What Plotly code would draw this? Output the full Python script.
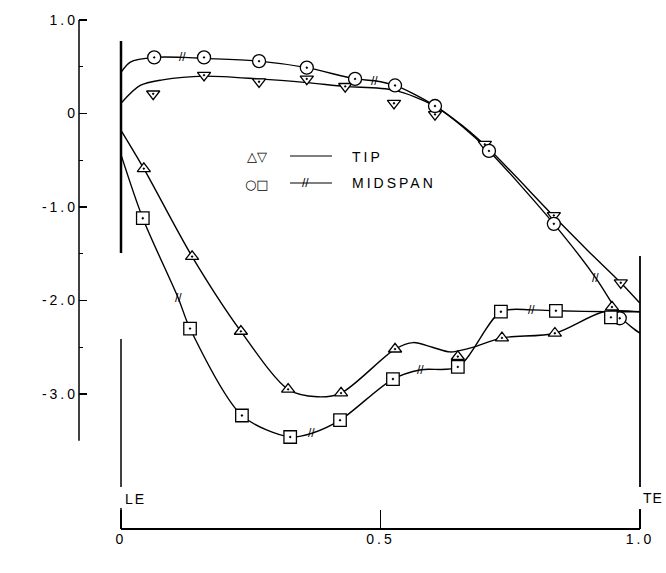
import numpy as np
import plotly.graph_objects as go

# ---------------- data ----------------
# measured points: tip suction side (triangle up)
tip_ss_x = [0.044, 0.137, 0.231, 0.322, 0.424, 0.528, 0.649, 0.734, 0.836, 0.946]
tip_ss_cp = [-0.59, -1.53, -2.33, -2.95, -2.99, -2.52, -2.60, -2.40, -2.35, -2.07]
# tip pressure side (triangle down)
tip_ps_x = [0.062, 0.160, 0.266, 0.358, 0.432, 0.526, 0.605, 0.701, 0.834, 0.963]
tip_ps_cp = [0.21, 0.41, 0.34, 0.37, 0.29, 0.11, -0.01, -0.33, -1.09, -1.81]
# midspan pressure side (circle)
mid_ps_x = [0.064, 0.160, 0.266, 0.358, 0.451, 0.528, 0.605, 0.709, 0.834, 0.961]
mid_ps_cp = [0.60, 0.60, 0.56, 0.49, 0.37, 0.30, 0.08, -0.40, -1.18, -2.19]
# midspan suction side (square)
mid_ss_x = [0.042, 0.133, 0.233, 0.326, 0.422, 0.524, 0.649, 0.732, 0.838, 0.944]
mid_ss_cp = [-1.12, -2.30, -3.23, -3.46, -3.28, -2.84, -2.71, -2.12, -2.11, -2.18]

# faired curves
tip_ss_curve_x = [0.0, 0.044, 0.137, 0.231, 0.322, 0.378, 0.424, 0.528, 0.563, 0.600, 0.634, 0.672, 0.734, 0.836, 0.930, 1.0]
tip_ss_curve_cp = [-0.18, -0.59, -1.53, -2.33, -2.95, -3.03, -2.99, -2.52, -2.45, -2.50, -2.55, -2.51, -2.40, -2.35, -2.12, -2.12]
tip_ps_curve_x = [0.0, 0.037, 0.080, 0.160, 0.266, 0.358, 0.432, 0.526, 0.605, 0.660, 0.709, 0.834, 0.900, 0.963, 1.0]
tip_ps_curve_cp = [0.11, 0.30, 0.36, 0.40, 0.37, 0.33, 0.29, 0.25, 0.08, -0.14, -0.38, -1.10, -1.47, -1.81, -2.03]
mid_ps_curve_x = [0.0, 0.018, 0.064, 0.119, 0.160, 0.266, 0.358, 0.451, 0.489, 0.528, 0.560, 0.605, 0.660, 0.709, 0.834, 0.915, 0.947, 0.961, 0.985, 1.0]
mid_ps_curve_cp = [0.44, 0.55, 0.60, 0.60, 0.59, 0.56, 0.49, 0.37, 0.35, 0.30, 0.22, 0.08, -0.15, -0.40, -1.18, -1.76, -2.04, -2.17, -2.29, -2.35]
mid_ss_curve_x = [0.0, 0.042, 0.110, 0.133, 0.233, 0.326, 0.368, 0.422, 0.524, 0.578, 0.649, 0.732, 0.790, 0.838, 0.944, 1.0]
mid_ss_curve_cp = [-0.44, -1.12, -1.97, -2.30, -3.23, -3.46, -3.42, -3.28, -2.84, -2.74, -2.71, -2.12, -2.10, -2.11, -2.12, -2.12]

# positions of the "//" midspan marks along the midspan curves
mid_ps_slash_x = [0.119, 0.489, 0.915]
mid_ss_slash_x = [0.110, 0.368, 0.578, 0.790]

y_tick_vals = [1.0, 0.0, -1.0, -2.0, -3.0]
y_tick_text = ["1.0", "0", "-1.0", "-2.0", "-3.0"]
y_minor_vals = [0.5, -0.5, -1.5, -2.5]
x_tick_vals = [0.0, 0.5, 1.0]
x_tick_text = ["0", "0.5", "1.0"]

# ---------------- geometry helpers (pixel -> axis units) ----------------
W, H = 666, 573
ML, MR, MT, MB = 79, 16, 14, 44
X0PX, XSCALE = 121.0, 519.0
Y0PX, YSCALE = 113.5, 93.5


def xd(px):
    return (px - X0PX) / XSCALE


def yd(py):
    return (Y0PX - py) / YSCALE


FONT = "Liberation Sans, Arial, Helvetica, sans-serif"


def spaced(t, sp=3):
    return f'<span style="letter-spacing:{sp}px">{t}</span>'


fig = go.Figure()

curves = [
    (tip_ss_curve_x, tip_ss_curve_cp),
    (tip_ps_curve_x, tip_ps_curve_cp),
    (mid_ps_curve_x, mid_ps_curve_cp),
    (mid_ss_curve_x, mid_ss_curve_cp),
]
for cx, cy in curves:
    fig.add_trace(go.Scatter(
        x=cx, y=cy, mode="lines",
        line=dict(color="black", width=1.4, shape="spline", smoothing=0.85),
        hoverinfo="skip", showlegend=False))

series = [
    (tip_ss_x, tip_ss_cp, "triangle-up-dot", 11.5),
    (tip_ps_x, tip_ps_cp, "triangle-down-dot", 11.5),
    (mid_ps_x, mid_ps_cp, "circle-dot", 13),
    (mid_ss_x, mid_ss_cp, "square-dot", 12.5),
]
for sx, sy, sym, sz in series:
    fig.add_trace(go.Scatter(
        x=sx, y=sy, mode="markers", cliponaxis=False,
        marker=dict(symbol=sym, size=sz, color="white",
                    line=dict(color="black", width=1.3)),
        showlegend=False))

annotations = []
# midspan "//" marks
for sxs, (cx, cy) in [(mid_ps_slash_x, curves[2]), (mid_ss_slash_x, curves[3])]:
    for s in sxs:
        annotations.append(dict(
            x=s, y=float(np.interp(s, cx, cy)), xref="x", yref="y",
            text="//", showarrow=False, font=dict(family=FONT, size=12, color="black"),
            xanchor="center", yanchor="middle"))

# legend
annotations += [
    dict(x=xd(257), y=yd(156), text="△▽", showarrow=False,
         font=dict(family="DejaVu Sans", size=13, color="black"), xanchor="center", yanchor="middle"),
    dict(x=xd(257), y=yd(184), text="○□", showarrow=False,
         font=dict(family="DejaVu Sans", size=13, color="black"), xanchor="center", yanchor="middle"),
    dict(x=xd(350), y=yd(157), text=spaced("TIP"), showarrow=False,
         font=dict(family=FONT, size=14, color="black"), xanchor="left", yanchor="middle"),
    dict(x=xd(350), y=yd(183), text=spaced("MIDSPAN"), showarrow=False,
         font=dict(family=FONT, size=14, color="black"), xanchor="left", yanchor="middle"),
    dict(x=xd(305), y=yd(183), text="//", showarrow=False,
         font=dict(family=FONT, size=12, color="black"), xanchor="center", yanchor="middle"),
    # other labels
    dict(x=xd(28), y=yd(158), text=spaced("Cp", 2), showarrow=False,
         font=dict(family=FONT, size=14, color="black"), xanchor="center", yanchor="middle"),
    dict(x=xd(123), y=yd(499), text=spaced("LE", 2), showarrow=False,
         font=dict(family=FONT, size=14, color="black"), xanchor="left", yanchor="middle"),
    dict(x=xd(641), y=yd(498), text=spaced("TE", 1), showarrow=False,
         font=dict(family=FONT, size=14, color="black"), xanchor="left", yanchor="middle"),
    dict(x=xd(382), y=yd(566), text=spaced("x/bx"), showarrow=False,
         font=dict(family=FONT, size=14, color="black"), xanchor="center", yanchor="middle"),
]

shapes = [
    # y axis line
    dict(type="line", xref="paper", yref="y", x0=0, x1=0, y0=-3.5, y1=1.0,
         line=dict(color="black", width=1.5)),
    # x axis line
    dict(type="line", xref="x", yref="paper", x0=0, x1=1.0, y0=0, y1=0,
         line=dict(color="black", width=2)),
    # leading edge marker lines
    dict(type="line", xref="x", yref="y", x0=0, x1=0, y0=yd(41), y1=yd(253),
         line=dict(color="black", width=2.5)),
    dict(type="line", xref="x", yref="y", x0=0, x1=0, y0=yd(339), y1=yd(487),
         line=dict(color="black", width=1.5)),
    dict(type="line", xref="x", yref="y", x0=0, x1=0, y0=yd(508), y1=yd(529),
         line=dict(color="black", width=1.5)),
    # trailing edge marker lines
    dict(type="line", xref="x", yref="y", x0=1.0, x1=1.0, y0=yd(256), y1=yd(487),
         line=dict(color="black", width=1.8)),
    dict(type="line", xref="x", yref="y", x0=1.0, x1=1.0, y0=yd(509), y1=yd(529),
         line=dict(color="black", width=1.8)),
    # legend lines
    dict(type="line", xref="x", yref="y", x0=xd(290), x1=xd(332), y0=yd(156), y1=yd(156),
         line=dict(color="black", width=1.2)),
    dict(type="line", xref="x", yref="y", x0=xd(290), x1=xd(332), y0=yd(183), y1=yd(183),
         line=dict(color="black", width=1.2)),
]

fig.update_layout(
    template="none",
    width=W, height=H,
    margin=dict(l=ML, r=MR, t=MT, b=MB, pad=0, autoexpand=False),
    paper_bgcolor="white", plot_bgcolor="white",
    showlegend=False,
    annotations=annotations,
    shapes=shapes,
    font=dict(family=FONT, size=14, color="black"),
)
fig.update_xaxes(
    automargin=False,
    range=[xd(ML), xd(W - MR)], showgrid=False, zeroline=False, showline=False,
    tickmode="array", tickvals=x_tick_vals, ticktext=[spaced(t) for t in x_tick_text],
    ticks="inside", ticklen=19, tickwidth=1.5, tickcolor="black",
    tickfont=dict(family=FONT, size=14, color="black"),
)
fig.update_yaxes(
    automargin=False,
    range=[yd(H - MB), yd(MT)], showgrid=False, zeroline=False, showline=False,
    tickmode="array", tickvals=y_tick_vals, ticktext=[spaced(t) for t in y_tick_text],
    ticks="inside", ticklen=8, tickwidth=1.5, tickcolor="black",
    tickfont=dict(family=FONT, size=14, color="black"),
    minor=dict(tickmode="array", tickvals=y_minor_vals, ticks="inside", ticklen=4,
               tickwidth=1.2, tickcolor="black", showgrid=False),
)

fig.write_html("out.html",
               config={"displayModeBar": False, "staticPlot": True},
               post_script="document.body.style.margin='0';document.body.style.overflow='hidden';")
